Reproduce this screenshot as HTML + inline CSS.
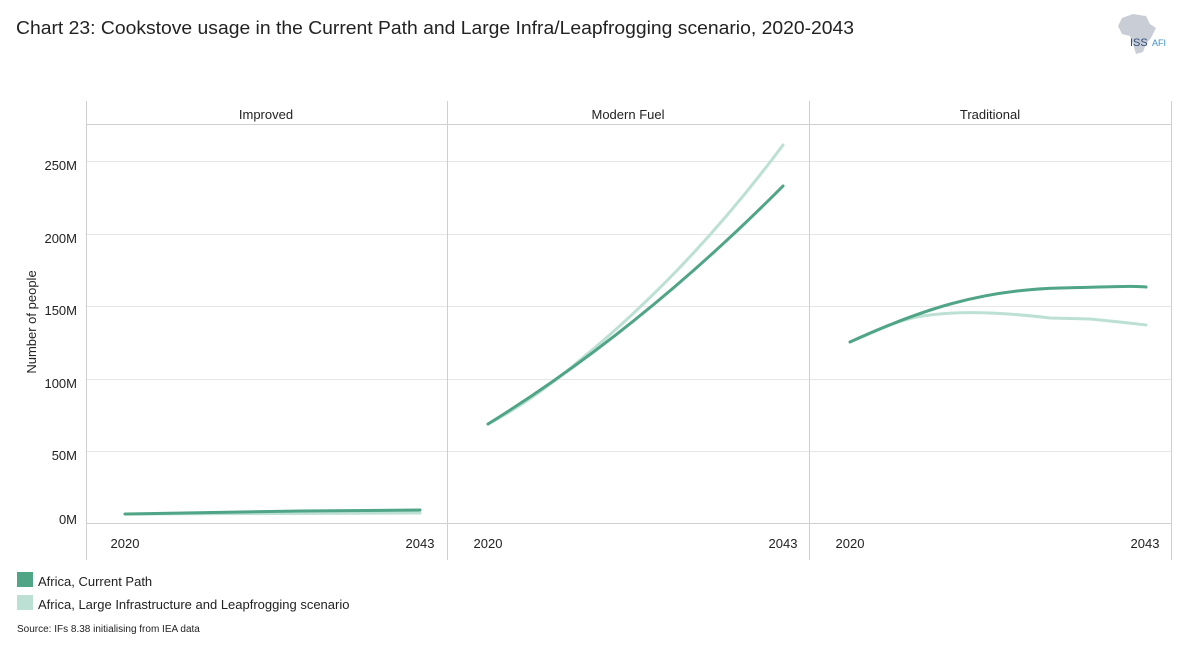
<!DOCTYPE html>
<html><head><meta charset="utf-8"><style>
body{margin:0;background:#fff;font-family:"Liberation Sans",sans-serif;}
</style></head><body>
<svg width="1186" height="656" xmlns="http://www.w3.org/2000/svg" font-family="Liberation Sans, sans-serif">
<text x="16" y="34" font-size="18" fill="#222" textLength="838" lengthAdjust="spacingAndGlyphs">Chart 23: Cookstove usage in the Current Path and Large Infra/Leapfrogging scenario, 2020-2043</text>
<!-- logo -->
<path d="M1122,18 L1133,14 L1146,16 L1150,24 L1156,28 L1151,38 L1146,44 L1143,52 L1136,54 L1133,44 L1130,36 L1122,34 L1118,26 Z" fill="#c9ced6"/>
<text x="1130" y="46" font-size="11" fill="#2b4a7a">ISS</text>
<text x="1152" y="46" font-size="9" fill="#3a8fc9">AFI</text>
<!-- grid -->
<g stroke="#e6e6e6" stroke-width="1">
<line x1="86" x2="1171" y1="161.5" y2="161.5"/>
<line x1="86" x2="1171" y1="234.5" y2="234.5"/>
<line x1="86" x2="1171" y1="306.5" y2="306.5"/>
<line x1="86" x2="1171" y1="379.5" y2="379.5"/>
<line x1="86" x2="1171" y1="451.5" y2="451.5"/>
</g>
<g stroke="#cfcfcf" stroke-width="1">
<line x1="86.5" x2="86.5" y1="101" y2="560"/>
<line x1="447.5" x2="447.5" y1="101" y2="560"/>
<line x1="809.5" x2="809.5" y1="101" y2="560"/>
<line x1="1171.5" x2="1171.5" y1="101" y2="560"/>
<line x1="86" x2="1171" y1="124.5" y2="124.5"/>
<line x1="86" x2="1171" y1="523.5" y2="523.5"/>
</g>
<g font-size="13" fill="#222" text-anchor="middle">
<text x="266" y="119">Improved</text>
<text x="628" y="119">Modern Fuel</text>
<text x="990" y="119">Traditional</text>
<text x="125" y="548">2020</text><text x="420" y="548">2043</text>
<text x="488" y="548">2020</text><text x="783" y="548">2043</text>
<text x="850" y="548">2020</text><text x="1145" y="548">2043</text>
</g>
<g font-size="13" fill="#222" text-anchor="end">
<text x="77" y="170">250M</text>
<text x="77" y="243">200M</text>
<text x="77" y="315">150M</text>
<text x="77" y="388">100M</text>
<text x="77" y="460">50M</text>
<text x="77" y="524">0M</text>
</g>
<text transform="translate(36,322) rotate(-90)" font-size="13" fill="#222" text-anchor="middle">Number of people</text>
<!-- series -->
<g fill="none" stroke-width="3" stroke-linecap="round">
<path d="M125,514 L420,513" stroke="#bde0d4"/>
<path d="M125,514 L300,511 L420,510" stroke="#4fa586"/>
<path d="M488,424 Q515,410 545,388 Q565,373 580,360 Q690,270 783,145" stroke="#bde0d4"/>
<path d="M488,424 Q640,330 783,186" stroke="#4fa586"/>
<path d="M850,342 C880,330 900,318 930,315 C960,311 1000,312 1050,318 L1090,319 C1110,321 1130,323 1146,325" stroke="#bde0d4"/>
<path d="M850,342 C920,310 980,290 1060,288 S1130,286 1146,287" stroke="#4fa586"/>
</g>
<!-- legend -->
<rect x="17" y="572" width="16" height="15" fill="#4fa586"/>
<text x="38" y="586" font-size="13" fill="#222">Africa, Current Path</text>
<rect x="17" y="595" width="16" height="15" fill="#bde0d4"/>
<text x="38" y="609" font-size="13" fill="#222">Africa, Large Infrastructure and Leapfrogging scenario</text>
<text x="17" y="632" font-size="10" fill="#222">Source: IFs 8.38 initialising from IEA data</text>
</svg>
</body></html>
